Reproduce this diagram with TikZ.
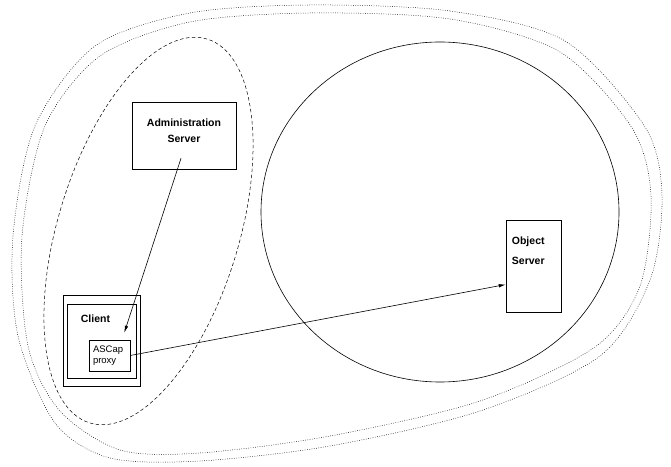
\documentclass[tikz,border=0pt]{standalone}
\usepackage{fontspec}
\setmainfont{Liberation Sans}
\usetikzlibrary{
    positioning,   % Relative positioning
    calc,          % Coordinate calculations
    arrows.meta    % Modern arrow tips
}

\tikzset{
    srvbox/.style={draw, line width=0.6pt, inner sep=0pt},
    srvlabel/.style={font=\fontsize{10.5}{16}\selectfont\bfseries, inner sep=0pt, align=#1},
    adminzone/.style={dash pattern=on 3.5pt off 2.5pt, line width=0.5pt},
    outerzone/.style={dash pattern=on 0.7pt off 1.6pt, line width=0.5pt},
    call/.style={-{Latex[length=7pt,width=3.5pt]}, line width=0.6pt}
}

\begin{document}
\begin{tikzpicture}[x=1pt, y=1pt]
    \useasboundingbox (0,0) rectangle (671,466);

    % outer boundaries
    \draw[outerzone] plot[smooth cycle] coordinates {
        (310,461) (450,455) (565,425) (645,339) (662,270) (650,186) (600,110)
        (480,55) (330,20) (200,5) (110,8) (55,43) (18,130) (13,230) (35,340)
        (95,420) (190,453)};
    \draw[outerzone] plot[smooth cycle] coordinates {
        (310,453) (450,447) (560,414) (632,338) (651,270) (640,180) (595,119)
        (480,65) (330,30) (200,13) (120,16) (60,55) (28,120) (22,230) (45,340)
        (100,410) (190,444)};

    % administration domain and object domain
    \draw[adminzone, rotate around={73:(148.5,235)}] (148.5,235) ellipse [x radius=200.7, y radius=90.5];
    \draw[line width=0.6pt] (440,254) ellipse [x radius=179, y radius=170];

    \node[srvbox, minimum width=104, minimum height=67,
          label={[srvlabel=center, yshift=5pt]center:Administration\\Server}] (admin) at (184,330.5) {};
    \node[srvbox, minimum width=55, minimum height=92,
          label={[srvlabel=left, anchor=north west, xshift=6pt, yshift=-17pt]north west:Object\\[4pt]Server}] (objsrv) at (533.5,200) {};

    \node[srvbox, minimum width=69, minimum height=74,
          label={[srvlabel=left, anchor=north west, xshift=14pt, yshift=-11pt]north west:Client}] (client) at (101.5,125) {};
    \draw[line width=0.6pt] ($(client.south west)+(-3.7,-8)$) rectangle ($(client.north east)+(3.7,8)$);
    \node[srvbox, text width=33, inner xsep=4, minimum height=31, align=left,
          font=\fontsize{9.5}{11.5}\selectfont] (proxy) at (109.5,110.5) {ASCap\\proxy};

    \draw[call] ($(admin.south)+(-3,11)$) -- ($(proxy.north east)+(-6,7)$);
    \draw[call] (proxy.east) -- ($(objsrv.south west)!0.3!(objsrv.north west)$);
\end{tikzpicture}
\end{document}
